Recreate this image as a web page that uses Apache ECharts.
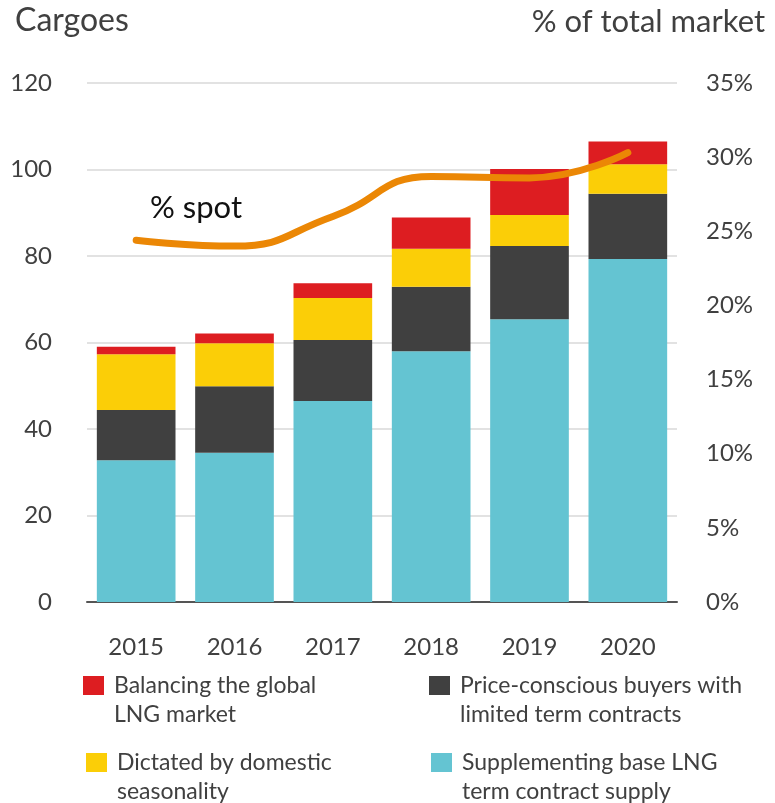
<!DOCTYPE html>
<html>
<head>
<meta charset="utf-8">
<script src="https://cdn.jsdelivr.net/npm/echarts@6/dist/echarts.min.js"></script>
<style>
  html, body { margin: 0; padding: 0; background: #fff; }
  #chart { width: 775px; height: 803px; }
</style>
</head>
<body>
<div id="chart"></div>
<script>
// Categories and series values
const years = ['2015', '2016', '2017', '2018', '2019', '2020'];
const supplementing = [32.8, 34.5, 46.5, 58.0, 65.4, 79.3];
const priceConscious = [11.6, 15.4, 14.1, 14.9, 16.9, 15.1];
const domestic = [12.9, 9.9, 9.7, 8.8, 7.2, 6.8];
const balancing = [1.7, 2.3, 3.4, 7.2, 10.6, 5.3];
const spotShare = [24.4, 24.0, 26.0, 28.7, 28.6, 30.3];

const names = {
  balancing: 'Balancing the global\nLNG market',
  price: 'Price-conscious buyers with\nlimited term contracts',
  domestic: 'Dictated by domestic\nseasonality',
  supp: 'Supplementing base LNG\nterm contract supply'
};

const FONT = 'Lato';
const TXT = '#404040';

const chart = echarts.init(document.getElementById('chart'), null, { renderer: 'canvas' });

// One legend block per series; a leading blank line keeps the swatch level with the first text line
function legendAt(name, left, top) {
  return {
    data: [name],
    left: left,
    top: top,
    padding: 0,
    itemWidth: 21,
    itemHeight: 19,
    itemGap: 0,
    icon: 'rect',
    selectedMode: false,
    formatter: n => '\n' + n,
    textStyle: {
      fontFamily: FONT,
      fontSize: 23,
      color: TXT,
      lineHeight: 29,
      padding: [0, 0, 0, 5]
    }
  };
}

chart.setOption({
  animation: false,
  textStyle: { fontFamily: FONT },
  grid: { left: 87, right: 98, top: 83, bottom: 201 },
  legend: [
    legendAt(names.balancing, 83, 642),
    legendAt(names.price, 429, 642),
    legendAt(names.domestic, 86, 719),
    legendAt(names.supp, 431, 719)
  ],
  xAxis: {
    type: 'category',
    data: years,
    axisLine: { lineStyle: { color: '#555', width: 2 } },
    axisTick: { show: false },
    axisLabel: { fontFamily: FONT, fontSize: 24, color: TXT, margin: 33 }
  },
  yAxis: [
    {
      type: 'value',
      min: 0, max: 120, interval: 20,
      name: 'Cargoes',
      nameLocation: 'end',
      nameGap: 46,
      nameTextStyle: { fontFamily: FONT, fontSize: 32, color: TXT, align: 'left', padding: [0, 0, 0, -72] },
      axisLine: { show: false },
      axisTick: { show: false },
      axisLabel: { fontFamily: FONT, fontSize: 24, color: TXT, margin: 35 },
      splitLine: { lineStyle: { color: '#e2e2e2', width: 2 } }
    },
    {
      type: 'value',
      min: 0, max: 35, interval: 5,
      name: '% of total market',
      nameLocation: 'end',
      nameGap: 46,
      nameTextStyle: { fontFamily: FONT, fontSize: 31, color: TXT, align: 'right', padding: [0, -88, 0, 0] },
      axisLine: { show: false },
      axisTick: { show: false },
      splitLine: { show: false },
      axisLabel: {
        fontFamily: FONT, fontSize: 24, color: TXT, margin: 29,
        formatter: '{value}%'
      }
    }
  ],
  series: [
    { name: names.supp, type: 'bar', stack: 'c', data: supplementing, barWidth: '80%', itemStyle: { color: '#64C4D2' } },
    { name: names.price, type: 'bar', stack: 'c', data: priceConscious, itemStyle: { color: '#404040' } },
    { name: names.domestic, type: 'bar', stack: 'c', data: domestic, itemStyle: { color: '#FBCE07' } },
    { name: names.balancing, type: 'bar', stack: 'c', data: balancing, itemStyle: { color: '#DD1D21' } },
    {
      name: '% spot', type: 'line', yAxisIndex: 1, data: spotShare,
      smooth: 0.5, showSymbol: false, symbol: 'none',
      lineStyle: { color: '#EB8705', width: 7, cap: 'round' },
      z: 5
    }
  ],
  graphic: [
    {
      type: 'text', left: 150, top: 192,
      style: { text: '% spot', fontFamily: FONT, fontSize: 31, fill: '#111' }
    }
  ]
});
</script>
</body>
</html>
